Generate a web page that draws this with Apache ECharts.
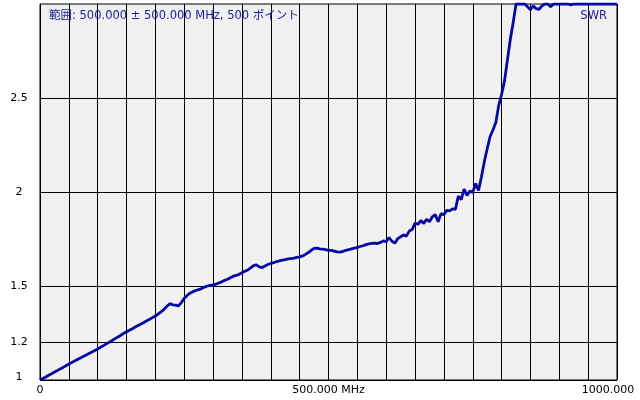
<!DOCTYPE html>
<html>
<head>
<meta charset="utf-8">
<script src="https://cdn.jsdelivr.net/npm/echarts@6/dist/echarts.min.js"></script>
<style>html,body{margin:0;padding:0;background:#fff;}#c{width:640px;height:400px;}</style>
</head>
<body>
<div id="c"></div>
<script>
// Frequency (MHz), 5 MHz steps
var freqStart = 0, freqStep = 5;
var swr = [
1.000,1.008,1.016,1.025,1.033,1.042,1.050,1.059,1.067,1.076,
1.085,1.093,1.101,1.109,1.117,1.125,1.133,1.141,1.149,1.157,
1.165,1.174,1.183,1.192,1.201,1.210,1.220,1.229,1.238,1.248,
1.257,1.265,1.273,1.282,1.290,1.298,1.306,1.315,1.323,1.332,
1.340,1.352,1.363,1.376,1.392,1.406,1.400,1.398,1.394,1.412,
1.435,1.450,1.462,1.470,1.476,1.481,1.486,1.494,1.500,1.503,
1.506,1.510,1.516,1.522,1.530,1.536,1.544,1.552,1.556,1.562,
1.570,1.578,1.585,1.596,1.608,1.612,1.602,1.598,1.606,1.614,
1.620,1.624,1.630,1.634,1.637,1.640,1.644,1.646,1.648,1.652,
1.655,1.660,1.668,1.678,1.690,1.700,1.702,1.698,1.696,1.694,
1.690,1.690,1.686,1.682,1.680,1.684,1.690,1.694,1.698,1.702,
1.706,1.710,1.714,1.720,1.724,1.727,1.728,1.726,1.732,1.740,
1.736,1.758,1.738,1.728,1.752,1.762,1.772,1.765,1.792,1.800,
1.835,1.828,1.848,1.832,1.855,1.842,1.868,1.880,1.842,1.885,
1.880,1.902,1.900,1.910,1.908,1.978,1.960,2.015,1.982,2.005,
1.998,2.045,2.008,2.080,2.160,2.230,2.294,2.330,2.370,2.460,
2.520,2.590,2.700,2.810,2.900,3.000,3.000,3.000,3.000,2.985,
2.970,2.990,2.975,2.972,2.990,3.000,3.000,2.985,3.000,3.000,
3.000,3.000,3.000,3.000,2.995,3.000,3.000,3.000,3.000,3.000,
3.000,3.000,3.000,3.000,3.000,3.000,3.000,3.000,3.000,3.000,
3.000
];
var freqs = swr.map(function(_, i){ return freqStart + i * freqStep; });

var xLabelValues = [0, 500, 1000];
var xLabelTexts = ['0', '500.000 MHz', '1000.000'];
var yTickValues = [1, 1.2, 1.5, 2, 2.5];
var yTickTexts = ['1', '1.2', '1.5', '2', '2.5'];
var titleText = '範囲: 500.000 ± 500.000 MHz, 500 ポイント';
var traceName = 'SWR';

var FONT = "'DejaVu Sans', 'Noto Sans CJK JP', sans-serif";
var chart = echarts.init(document.getElementById('c'), null, {renderer: 'canvas'});
var data = freqs.map(function(f, i){ return [f, swr[i]]; });

chart.setOption({
  animation: false,
  backgroundColor: '#ffffff',
  title: [
    {text: titleText, left: 49, top: 10, padding: 0, textStyle: {color: '#1a1a9c', fontSize: 11.5, fontWeight: 'normal', fontFamily: FONT}},
    {text: traceName, right: 33, top: 10, padding: 0, textStyle: {color: '#1a1a9c', fontSize: 11.5, fontWeight: 'normal', fontFamily: FONT}}
  ],
  grid: {left: 40, right: 23, top: 4, bottom: 20, show: true, backgroundColor: '#f0f0f0', borderColor: '#000', borderWidth: 1},
  xAxis: {
    type: 'value', min: 0, max: 1000, interval: 50,
    axisLine: {show: false}, axisTick: {show: false},
    splitLine: {show: true, lineStyle: {color: '#000', width: 1}},
    axisLabel: {
      margin: 5, color: '#000', fontSize: 11, fontFamily: FONT,
      formatter: function(v){
        var i = xLabelValues.indexOf(v);
        if (i < 0) return '';
        if (v === 1000) return '{r|' + xLabelTexts[i] + '}';
        return xLabelTexts[i];
      },
      rich: {r: {color: '#000', fontSize: 11, fontFamily: FONT, padding: [0, 18, 0, 0]}}
    }
  },
  yAxis: {
    type: 'value', min: 1, max: 3,
    axisLine: {show: false},
    axisTick: {show: false, customValues: yTickValues},
    splitLine: {show: true, lineStyle: {color: '#000', width: 1}},
    axisLabel: {
      customValues: yTickValues,
      margin: 21, align: 'center', color: '#000', fontSize: 11, fontFamily: FONT,
      formatter: function(v){
        var i = yTickValues.indexOf(v);
        var t = i < 0 ? '' : yTickTexts[i];
        if (v === 1) return '{b|' + t + '}';
        return t;
      },
      rich: {b: {color: '#000', fontSize: 11, fontFamily: FONT, padding: [0, 0, 6, 0]}}
    }
  },
  series: [{
    type: 'line', name: traceName, data: data, showSymbol: false, clip: true,
    lineStyle: {color: '#0808a4', width: 2.8}
  }]
});
</script>
</body>
</html>
